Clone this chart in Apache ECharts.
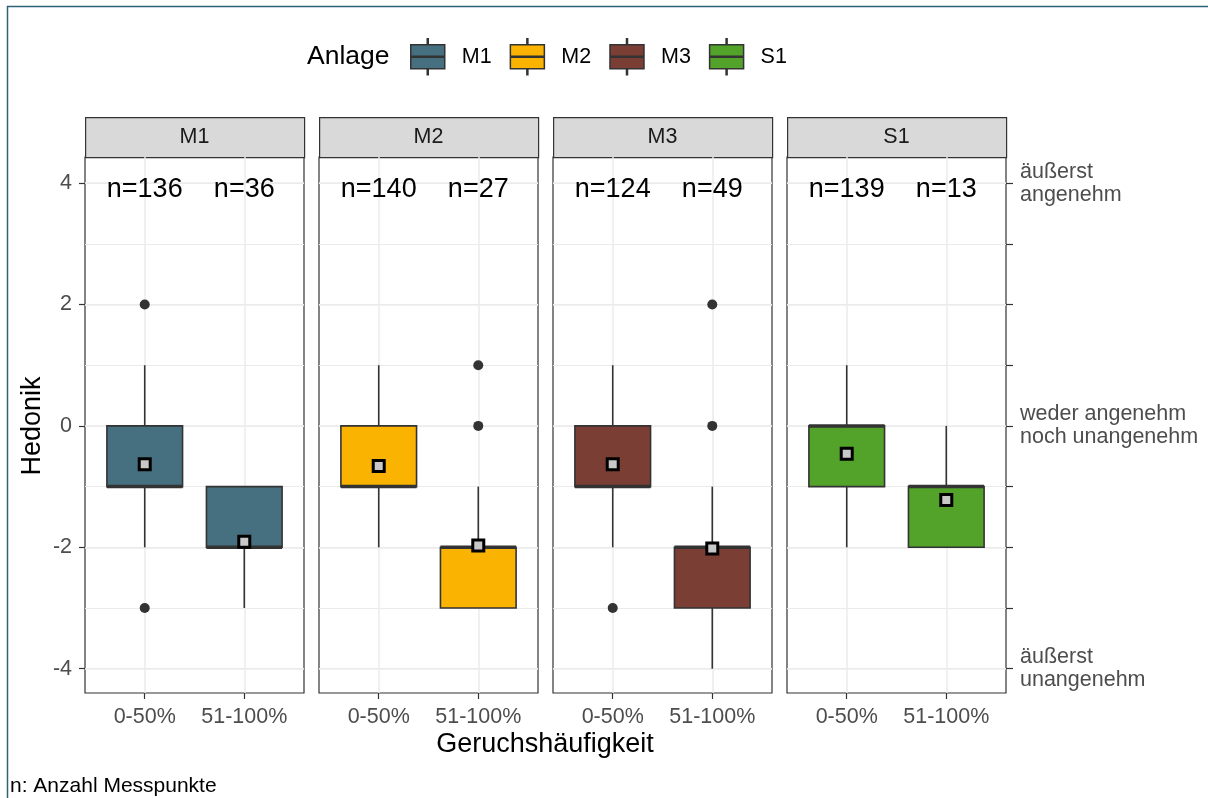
<!DOCTYPE html>
<html>
<head>
<meta charset="utf-8">
<title>Hedonik nach Geruchshäufigkeit</title>
<script src="https://cdn.jsdelivr.net/npm/echarts@6/dist/echarts.min.js"></script>
<style>
  html, body { margin: 0; padding: 0; background: #fff; }
  #chart { width: 1208px; height: 798px; }
</style>
</head>
<body>
<div id="chart"></div>
<script>
// Facets (Anlage) and x categories (Geruchshäufigkeit)
const plants = ['M1', 'M2', 'M3', 'S1'];
const categories = ['0-50%', '51-100%'];
const plantColors = ['#46707F', '#FAB301', '#7B3E34', '#53A32A'];

// Box statistics per plant, one row per category:
// [whisker low, Q1, median, Q3, whisker high]
const boxStats = {
  M1: [[-2, -1, -1, 0, 1], [-3, -2, -2, -1, -1]],
  M2: [[-2, -1, -1, 0, 1], [-3, -3, -2, -2, -1]],
  M3: [[-2, -1, -1, 0, 1], [-4, -3, -2, -2, -1]],
  S1: [[-2, -1, 0, 0, 1], [-2, -2, -1, -1, 0]]
};
// Mean per plant and category
const means = {
  M1: [-0.63, -1.91],
  M2: [-0.66, -1.97],
  M3: [-0.63, -2.02],
  S1: [-0.46, -1.22]
};
// Outliers per plant and category
const outliers = {
  M1: [[2, -3], []],
  M2: [[], [0, 1]],
  M3: [[-3], [0, 2]],
  S1: [[], []]
};
// Number of measurement points
const counts = {
  M1: [136, 36],
  M2: [140, 27],
  M3: [124, 49],
  S1: [139, 13]
};
const nLabelY = 3.9;

// Axis ticks
const yTicksLeft = [-4, -2, 0, 2, 4];
const yTicksRight = [-4, -3, -2, -1, 0, 1, 2, 3, 4];
const yLabelsRight = { '4': 'äußerst\nangenehm', '0': 'weder angenehm\nnoch unangenehm', '-4': 'äußerst\nunangenehm' };
const yMin = -4.4, yMax = 4.43;

const FONT = '"Liberation Sans", Arial, Helvetica, sans-serif';
const panelLeft = [85, 319, 553, 787];
const panelWidth = 219;
const panelTop = 157;
const panelHeight = 536;
const stripHeight = 40;
const BOX_WIDTH = 0.76;
const DARK = '#333333';

const grids = [], xAxes = [], yAxes = [], series = [], graphics = [];

function renderBox(color) {
  return function (params, api) {
    const x = api.value(0);
    const lo = api.value(1), q1 = api.value(2), med = api.value(3), q3 = api.value(4), hi = api.value(5);
    const tl = api.coord([x - BOX_WIDTH / 2, q3]);
    const br = api.coord([x + BOX_WIDTH / 2, q1]);
    const c = api.coord([x, med]);
    const top = api.coord([x, hi]);
    const bottom = api.coord([x, lo]);
    const stroke = { stroke: DARK, lineWidth: 1.6 };
    return {
      type: 'group',
      children: [
        { type: 'line', ignore: !(hi > q3), shape: { x1: c[0], y1: tl[1], x2: c[0], y2: top[1] }, style: stroke },
        { type: 'line', ignore: !(lo < q1), shape: { x1: c[0], y1: br[1], x2: c[0], y2: bottom[1] }, style: stroke },
        {
          type: 'rect',
          shape: { x: tl[0], y: tl[1], width: br[0] - tl[0], height: br[1] - tl[1] },
          style: { fill: color, stroke: DARK, lineWidth: 1.6 }
        },
        { type: 'line', shape: { x1: tl[0], y1: c[1], x2: br[0], y2: c[1] }, style: { stroke: DARK, lineWidth: 3.5 } }
      ]
    };
  };
}

plants.forEach(function (p, i) {
  grids.push({
    left: panelLeft[i], top: panelTop, width: panelWidth, height: panelHeight,
    show: true, borderColor: DARK, borderWidth: 1.2, backgroundColor: '#ffffff'
  });
  xAxes.push({
    type: 'value', gridIndex: i, min: 0.4, max: 2.6, position: 'bottom',
    axisLine: { show: false, onZero: false },
    axisTick: { show: true, customValues: [1, 2], length: 6, lineStyle: { color: DARK, width: 1.2 } },
    axisLabel: {
      show: true, customValues: [1, 2], margin: 13,
      formatter: function (v) { return categories[Math.round(v) - 1]; },
      color: '#4D4D4D', fontSize: 21.5, fontFamily: FONT
    },
    splitLine: { show: true, lineStyle: { color: '#EBEBEB', width: 1.5 } }
  });
  // left axis: major grid lines (and labels on the first panel)
  yAxes.push({
    type: 'value', gridIndex: i, min: yMin, max: yMax, position: 'left',
    axisLine: { show: false, onZero: false },
    axisTick: { show: i === 0, customValues: yTicksLeft, length: 6, lineStyle: { color: DARK, width: 1.2 } },
    axisLabel: {
      show: i === 0, customValues: yTicksLeft, margin: 13,
      color: '#4D4D4D', fontSize: 21.5, fontFamily: FONT
    },
    splitLine: { show: true, lineStyle: { color: '#EBEBEB', width: 1.5 } }
  });
  // right axis: minor grid lines, verbal scale on the last panel
  yAxes.push({
    type: 'value', gridIndex: i, min: yMin, max: yMax, position: 'right',
    axisLine: { show: false, onZero: false },
    axisTick: { show: i === 3, customValues: yTicksRight, length: 7, lineStyle: { color: DARK, width: 1.2 } },
    axisLabel: {
      show: i === 3, customValues: [-4, 0, 4], margin: 14, align: 'left',
      formatter: function (v) { return yLabelsRight[String(Math.round(v))] || ''; },
      color: '#4D4D4D', fontSize: 21.5, lineHeight: 23, fontFamily: FONT
    },
    splitLine: { show: true, lineStyle: { color: '#EBEBEB', width: 1 } }
  });

  // boxes
  series.push({
    type: 'custom', name: p, xAxisIndex: i, yAxisIndex: 2 * i,
    itemStyle: { color: plantColors[i], borderColor: DARK, borderWidth: 1.5 },
    data: boxStats[p].map(function (s, k) { return [k + 1].concat(s); }),
    z: 3,
    renderItem: renderBox(plantColors[i])
  });

  // outliers
  const outData = [];
  outliers[p].forEach(function (vals, k) { vals.forEach(function (v) { outData.push([k + 1, v]); }); });
  series.push({
    type: 'scatter', name: p + ' Ausreißer', xAxisIndex: i, yAxisIndex: 2 * i,
    symbol: 'circle', symbolSize: 10, itemStyle: { color: DARK, opacity: 1 },
    data: outData, z: 4, silent: true
  });

  // means
  series.push({
    type: 'scatter', name: p + ' Mittelwert', xAxisIndex: i, yAxisIndex: 2 * i,
    symbol: 'rect', symbolSize: 11,
    itemStyle: { color: '#C8C8C8', borderColor: '#000000', borderWidth: 3, opacity: 1 },
    data: means[p].map(function (m, k) { return [k + 1, m]; }), z: 5, silent: true
  });

  // n labels
  series.push({
    type: 'custom', name: p + ' n', xAxisIndex: i, yAxisIndex: 2 * i,
    data: counts[p].map(function (n, k) { return [k + 1, nLabelY, n]; }),
    z: 6, silent: true,
    renderItem: function (params, api) {
      const pt = api.coord([api.value(0), api.value(1)]);
      return {
        type: 'text', x: pt[0], y: pt[1],
        style: {
          text: 'n=' + api.value(2), fill: '#000000', fontSize: 27, fontFamily: FONT,
          align: 'center', verticalAlign: 'middle'
        }
      };
    }
  });

  // facet strip
  graphics.push({
    type: 'rect', left: panelLeft[i], top: panelTop - stripHeight,
    shape: { width: panelWidth, height: stripHeight },
    style: { fill: '#D9D9D9', stroke: DARK, lineWidth: 1.2 }
  });
  graphics.push({
    type: 'text', x: panelLeft[i] + panelWidth / 2, y: panelTop - stripHeight / 2,
    style: { text: p, fill: '#1A1A1A', fontSize: 21.5, fontFamily: FONT, align: 'center', verticalAlign: 'middle' }
  });
});

// axis titles, legend title, caption, frame
graphics.push(
  { type: 'text', x: 545, y: 745, style: { text: 'Geruchshäufigkeit', fill: '#000', fontSize: 27, fontFamily: FONT, align: 'center', verticalAlign: 'middle' } },
  { type: 'text', x: 33, y: 426, rotation: Math.PI / 2, style: { text: 'Hedonik', fill: '#000', fontSize: 27, fontFamily: FONT, align: 'center', verticalAlign: 'middle' } },
  { type: 'text', x: 307, y: 57, style: { text: 'Anlage', fill: '#000', fontSize: 26.5, fontFamily: FONT, align: 'left', verticalAlign: 'middle' } },
  { type: 'text', x: 10, y: 786, style: { text: 'n: Anzahl Messpunkte', fill: '#000', fontSize: 21, fontFamily: FONT, align: 'left', verticalAlign: 'middle' } },
  { type: 'line', shape: { x1: 7, y1: 6.5, x2: 1208, y2: 6.5 }, style: { stroke: '#2E6275', lineWidth: 1.5 } },
  { type: 'line', shape: { x1: 7.5, y1: 6, x2: 7.5, y2: 798 }, style: { stroke: '#2E6275', lineWidth: 1.5 } }
);

const keyIcon = 'path://M16.5,0H17.5V6H16.5Z M0,6H34V30H0Z M0,17.5H34V18.5H0Z M16.5,30H17.5V36H16.5Z';

const option = {
  animation: false,
  backgroundColor: '#ffffff',
  textStyle: { fontFamily: FONT },
  legend: {
    left: 405, top: 33, orient: 'horizontal',
    itemWidth: 34, itemHeight: 36, itemGap: 18,
    selectedMode: false,
    textStyle: { fontSize: 21.5, color: '#000', fontFamily: FONT, padding: [0, 0, 0, 12] },
    data: plants.map(function (p, i) {
      return { name: p, icon: keyIcon, itemStyle: { color: plantColors[i], borderColor: DARK, borderWidth: 1.5 } };
    })
  },
  grid: grids,
  xAxis: xAxes,
  yAxis: yAxes,
  series: series,
  graphic: graphics
};

const chart = echarts.init(document.getElementById('chart'), null, { renderer: 'canvas' });
chart.setOption(option);
</script>
</body>
</html>
